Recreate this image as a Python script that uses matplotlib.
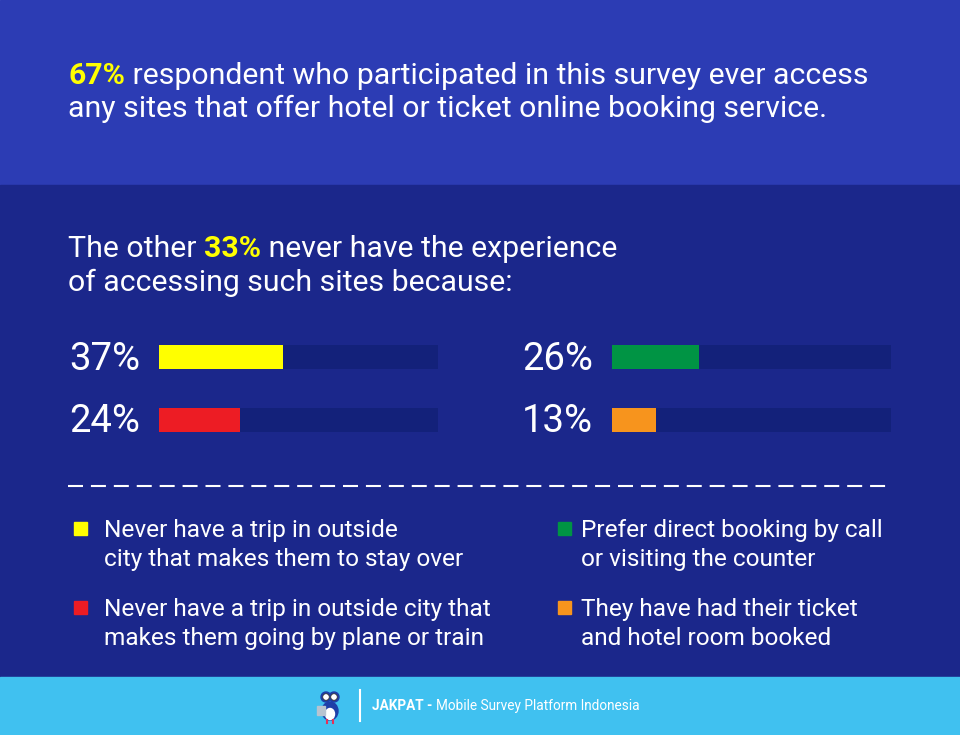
import matplotlib
matplotlib.use("Agg")
import matplotlib.pyplot as plt
from matplotlib.patches import Rectangle, Circle, Ellipse

plt.rcParams['font.family'] = ['Roboto', 'DejaVu Sans']

# data
left_pcts = [37, 24]
right_pcts = [26, 13]
left_colors = ['#ffff00', '#ed1c24']
right_colors = ['#009444', '#f7941d']
left_labels = [['Never have a trip in outside', 'city that makes them to stay over'],
               ['Never have a trip in outside city that', 'makes them going by plane or train']]
right_labels = [['Prefer direct booking by call', 'or visiting the counter'],
                ['They have had their ticket', 'and hotel room booked']]
track_max = 83

W, H = 960, 735
top_bg = '#2c3cb4'
mid_bg = '#1b278b'
track_c = '#13217a'
foot_bg = '#40c1f0'

fig = plt.figure(figsize=(9.6, 7.35), dpi=100)
ax = fig.add_axes([0, 0, 1, 1])
ax.set_xlim(0, W)
ax.set_ylim(H, 0)
ax.axis('off')

ax.add_patch(Rectangle((0, 0), W, 185, color=top_bg, zorder=0))
ax.add_patch(Rectangle((0, 185), W, 492, color=mid_bg, zorder=0))
ax.add_patch(Rectangle((0, 677), W, 58, color=foot_bg, zorder=0))


def mixed(x, y, parts, size):
    # parts: list of (text, color, weight), drawn one after another on a baseline
    t = ax.text(x, y, parts[0][0], color=parts[0][1], fontweight=parts[0][2],
                fontsize=size, va='baseline', ha='left')
    for txt, col, wt in parts[1:]:
        t = ax.annotate(txt, xy=(1, 0), xycoords=t, va='bottom', ha='left',
                        color=col, fontweight=wt, fontsize=size)
    return t


hs = 21.8
mixed(68, 84, [('67%', '#ffff00', 'bold'),
               (' respondent who participated in this survey ever access', 'white', 'normal')], hs)
ax.text(68, 117, 'any sites that offer hotel or ticket online booking service.',
        color='white', fontsize=hs, va='baseline')

mixed(68, 257, [('The other ', 'white', 'normal'), ('33%', '#ffff00', 'bold'),
                (' never have the experience', 'white', 'normal')], hs)
ax.text(68, 291, 'of accessing such sites because:', color='white', fontsize=hs, va='baseline')


# bar panels (axes placed in pixel units)
def bar_panel(x0, pcts, colors, label_x):
    bax = fig.add_axes([x0 / W, 1 - 432 / H, 279 / W, (432 - 345) / H])
    bax.set_xlim(0, track_max)
    ypos = [0, 1]
    h = 24 / 63
    bax.set_ylim(1 + h / 2, -h / 2)
    bax.barh(ypos, [track_max] * 2, height=h, color=track_c)
    bax.barh(ypos, pcts, height=h, color=colors)
    bax.axis('off')
    for yb, p in zip([370, 432], pcts):
        ax.text(label_x, yb, f'{p}%', color='white', fontsize=27.5, fontweight='normal',
                va='baseline', ha='left')


bar_panel(159, left_pcts, left_colors, 69)
bar_panel(612, right_pcts, right_colors, 522)

# dashed separator
ax.plot([68, 888], [486, 486], color='white', lw=1.5, dashes=(7.2, 3.8))

# legend
for (sx, tx), labels, colors in [((74, 104), left_labels, left_colors),
                                 ((558, 581), right_labels, right_colors)]:
    for yb, lines, c in zip([537, 616], labels, colors):
        ax.add_patch(Rectangle((sx, yb - 15), 13, 13, color=c))
        for k, line in enumerate(lines):
            ax.text(tx, yb + 29 * k, line, color='white', fontsize=17.6,
                    va='baseline', ha='left')

# footer
ax.plot([360, 360], [690, 721], color='white', lw=1.5)
mixed(372, 710, [('JAKPAT - ', 'white', 'bold'),
                 ('Mobile Survey Platform Indonesia', 'white', 'normal')], 9.8)

# simple owl mascot
ax.add_patch(Ellipse((330, 711), 16, 18, color='#1e3fa8'))
ax.add_patch(Ellipse((330, 714), 9, 11, color='white'))
ax.add_patch(Circle((326, 697), 5, color='#1e3fa8'))
ax.add_patch(Circle((334, 697), 5, color='#1e3fa8'))
ax.add_patch(Circle((326, 697), 3.3, color='white', ec='#333333', lw=0.6))
ax.add_patch(Circle((334, 697), 3.3, color='white', ec='#333333', lw=0.6))
ax.add_patch(Rectangle((317, 706), 8, 9, color='#b8c4d0'))
ax.plot([327, 327], [720, 723], color='#e5325a', lw=1.5)
ax.plot([333, 333], [720, 723], color='#e5325a', lw=1.5)

fig.savefig('out.png', dpi=100)
